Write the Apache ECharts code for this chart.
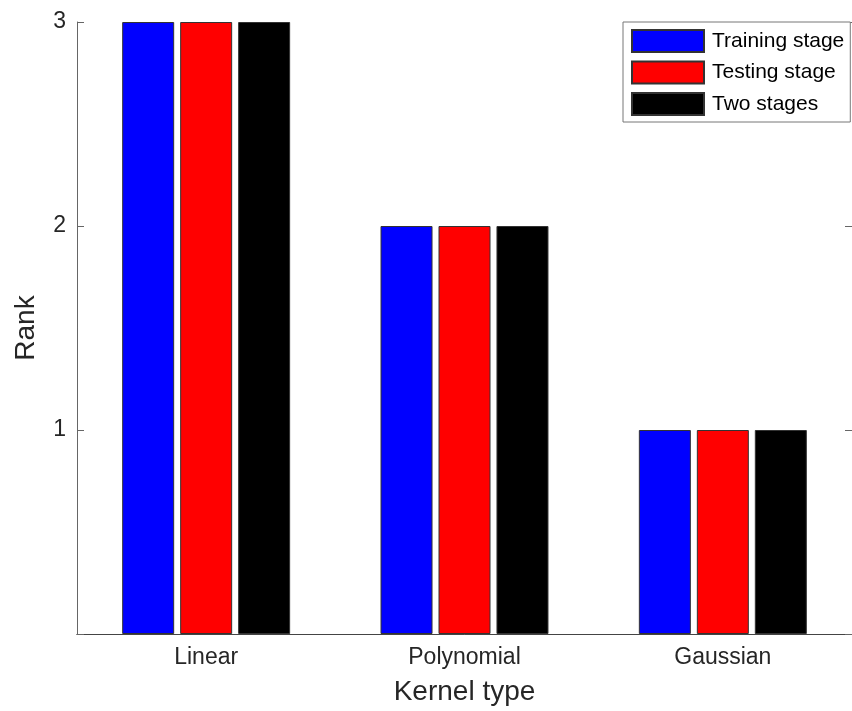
<!DOCTYPE html>
<html>
<head>
<meta charset="utf-8">
<script src="https://cdn.jsdelivr.net/npm/echarts@6/dist/echarts.min.js"></script>
<style>html,body{margin:0;padding:0;background:#fff;}#c{width:852px;height:711px;}</style>
</head>
<body>
<div id="c"></div>
<script>
const categories = ['Linear', 'Polynomial', 'Gaussian'];
const seriesNames = ['Training stage', 'Testing stage', 'Two stages'];
const trainingStage = [3, 2, 1];
const testingStage = [3, 2, 1];
const twoStages = [3, 2, 1];
const yTicks = [1, 2, 3];

const colors = ['#0000ff', '#ff0000', '#000000'];
const values = [trainingStage, testingStage, twoStages];
const font = 'Liberation Sans, Arial, sans-serif';

const chart = echarts.init(document.getElementById('c'), null, {renderer: 'canvas'});
const axisColor = '#666';
chart.setOption({
  animation: false,
  backgroundColor: '#fff',
  textStyle: {fontFamily: font},
  grid: {left: 77, right: 0, top: 22, bottom: 76, containLabel: false},
  legend: {
    left: 623, top: 22,
    orient: 'vertical',
    itemWidth: 72, itemHeight: 22, itemGap: 7.5,
    padding: [7, 6, 6, 8],
    borderColor: '#777', borderWidth: 1,
    backgroundColor: '#fff',
    icon: 'rect',
    textStyle: {fontSize: 21, color: '#000', fontFamily: font, padding: [0, 0, 0, 3]},
    data: seriesNames
  },
  xAxis: [{
    type: 'category',
    data: categories,
    name: 'Kernel type',
    nameLocation: 'middle',
    nameGap: 44,
    nameTextStyle: {fontSize: 28, color: '#262626', fontFamily: font},
    axisLine: {show: true, lineStyle: {color: axisColor, width: 1}},
    axisTick: {show: true, inside: true, alignWithLabel: true, length: 7, lineStyle: {color: axisColor}},
    axisLabel: {fontSize: 23, color: '#262626', margin: 12, fontFamily: font},
    splitLine: {show: false}
  }, {
    type: 'category',
    position: 'top',
    data: categories,
    axisLine: {show: true, lineStyle: {color: '#444', width: 1}},
    axisTick: {show: false},
    axisLabel: {show: false}
  }],
  yAxis: [{
    type: 'value',
    min: 0, max: 3, interval: 1,
    name: 'Rank',
    nameLocation: 'middle',
    nameGap: 37,
    nameTextStyle: {fontSize: 28, color: '#262626', fontFamily: font},
    axisLine: {show: true, lineStyle: {color: axisColor, width: 1}},
    axisTick: {show: true, inside: true, length: 7, lineStyle: {color: axisColor}},
    axisLabel: {
      fontSize: 23, color: '#262626', margin: 11, fontFamily: font,
      formatter: function (v) { return yTicks.indexOf(v) >= 0 ? String(v) : ''; }
    },
    splitLine: {show: false}
  }, {
    type: 'value',
    position: 'right',
    min: 0, max: 3, interval: 1,
    axisLine: {show: true, lineStyle: {color: axisColor, width: 1}},
    axisTick: {show: true, inside: true, length: 7, lineStyle: {color: axisColor}},
    axisLabel: {show: false},
    splitLine: {show: false}
  }],
  series: seriesNames.map(function (name, i) {
    return {
      name: name,
      type: 'bar',
      data: values[i],
      barWidth: 52,
      barGap: '11.5%',
      itemStyle: {color: colors[i], borderColor: '#333', borderWidth: 1},
      z: 1
    };
  })
});
</script>
</body>
</html>
